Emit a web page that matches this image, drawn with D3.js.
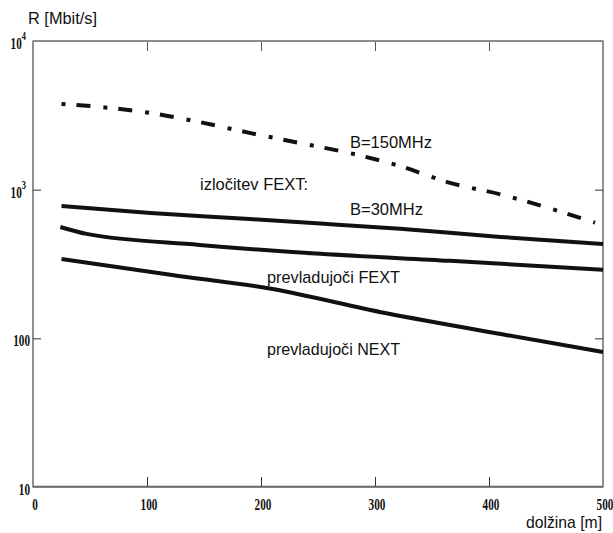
<!DOCTYPE html>
<html>
<head>
<meta charset="utf-8">
<script src="https://cdn.jsdelivr.net/npm/d3@7/dist/d3.min.js"></script>
<style>
  body { margin: 0; background: #fff; }
  .lab { font-family: "Liberation Sans", Arial, sans-serif; font-size: 17px; fill: #111; }
  .tk { font-family: "Liberation Serif", "Times New Roman", serif; font-weight: bold; font-size: 16px; fill: #111; }
</style>
</head>
<body>
<script>
// B=150MHz (dash-dot)
var dist150 = [25, 59, 103, 146, 191, 234, 278, 322, 366, 410, 453, 493],
    rate150 = [3770, 3600, 3280, 2850, 2400, 2060, 1760, 1440, 1110, 930, 750, 600];
// B=30MHz
var dist30 = [25, 103, 190, 252, 322, 410, 500],
    rate30 = [776, 697, 635, 592, 545, 481, 431];
// prevladujoci FEXT
var distFext = [24, 47, 146, 252, 366, 500],
    rateFext = [561, 504, 425, 370, 332, 289];
// prevladujoci NEXT
var distNext = [25, 122, 205, 309, 416, 500],
    rateNext = [342, 267, 218, 148, 105, 81];

var xTicks = [0, 100, 200, 300, 400, 500],
    yTicks = [10, 100, 1000, 10000];

var width = 613, height = 533;

var svg = d3.select("body").append("svg")
    .attr("width", width)
    .attr("height", height);

var x = d3.scaleLinear().domain([0, 500]).range([33, 603]),
    y = d3.scaleLog().domain([10, 10000]).range([487, 41]);

// inner ticks
svg.append("g").attr("transform", "translate(0," + y(10) + ")")
  .call(d3.axisBottom(x).tickValues([100, 200, 300, 400]).tickSize(-10).tickFormat(""))
  .call(function(g){ g.select(".domain").remove(); g.selectAll("line").attr("stroke", "#333"); });
svg.append("g").attr("transform", "translate(0," + y(10000) + ")")
  .call(d3.axisTop(x).tickValues([100, 200, 300, 400]).tickSize(-10).tickFormat(""))
  .call(function(g){ g.select(".domain").remove(); g.selectAll("line").attr("stroke", "#555"); });
svg.append("g").attr("transform", "translate(" + x(0) + ",0)")
  .call(d3.axisLeft(y).tickValues([100, 1000, 10000]).tickSize(-8).tickFormat(""))
  .call(function(g){ g.select(".domain").remove(); g.selectAll("line").attr("stroke", "#333"); });
svg.append("g").attr("transform", "translate(" + x(500) + ",0)")
  .call(d3.axisRight(y).tickValues([100, 1000, 10000]).tickSize(-8).tickFormat(""))
  .call(function(g){ g.select(".domain").remove(); g.selectAll("line").attr("stroke", "#333"); });

// frame
svg.append("rect")
  .attr("x", x(0)).attr("y", y(10000))
  .attr("width", x(500) - x(0)).attr("height", y(10) - y(10000))
  .attr("fill", "none").attr("stroke", "#222").attr("stroke-width", 1);
svg.append("line")
  .attr("x1", x(0)).attr("x2", x(500)).attr("y1", y(10) - 0.5).attr("y2", y(10) - 0.5)
  .attr("stroke", "#666").attr("stroke-width", 1.5);
svg.append("line")
  .attr("x1", x(0)).attr("x2", x(500)).attr("y1", y(10000) + 0.5).attr("y2", y(10000) + 0.5)
  .attr("stroke", "#888").attr("stroke-width", 1);

// tick labels
svg.selectAll(".xt").data(xTicks).enter().append("text")
  .attr("class", "tk")
  .attr("text-anchor", "middle")
  .attr("transform", function(d){ return "translate(" + (x(d) + 2) + ",510) scale(0.7,1)"; })
  .text(function(d){ return d; });

var yl = svg.selectAll(".yt").data(yTicks).enter().append("text")
  .attr("class", "tk")
  .attr("text-anchor", "end")
  .attr("transform", function(d){ return "translate(30," + (y(d) + 8) + ") scale(0.7,1)"; });
yl.filter(function(d){ return d <= 100; }).text(function(d){ return d; });
yl.filter(function(d){ return d > 100; })
  .attr("transform", function(d){ return "translate(26," + (y(d) + 8) + ") scale(0.7,1)"; })
  .each(function(d){
    var t = d3.select(this);
    t.append("tspan").text("10");
    t.append("tspan").attr("dy", -9).style("font-size", "12px").text(Math.round(Math.log10(d)));
  });

// curves
var line = d3.line()
  .x(function(d){ return x(d[0]); })
  .y(function(d){ return y(d[1]); })
  .curve(d3.curveMonotoneX);

function pairs(a, b){ return a.map(function(v, i){ return [v, b[i]]; }); }

svg.append("path")
  .attr("d", line(pairs(dist150, rate150)))
  .attr("fill", "none").attr("stroke", "#111").attr("stroke-width", 4)
  .attr("stroke-dasharray", "4,11,14,13");

[[dist30, rate30], [distFext, rateFext], [distNext, rateNext]].forEach(function(s){
  svg.append("path")
    .attr("d", line(pairs(s[0], s[1])))
    .attr("fill", "none").attr("stroke", "#111").attr("stroke-width", 4)
    .attr("stroke-linejoin", "round");
});

// labels
var labels = [
  {t: "B=150MHz", x: 350, y: 148, w: 82},
  {t: "izločitev FEXT:", x: 200, y: 190, w: 108},
  {t: "B=30MHz", x: 350, y: 215, w: 73},
  {t: "prevladujoči FEXT", x: 267, y: 283, w: 133},
  {t: "prevladujoči NEXT", x: 267, y: 355, w: 133},
  {t: "R [Mbit/s]", x: 28, y: 24, w: 69},
  {t: "dolžina [m]", x: 526, y: 528, w: 76}
];
svg.selectAll(".lab").data(labels).enter().append("text")
  .attr("class", "lab")
  .attr("x", function(d){ return d.x; })
  .attr("y", function(d){ return d.y; })
  .attr("textLength", function(d){ return d.w; })
  .attr("lengthAdjust", "spacingAndGlyphs")
  .text(function(d){ return d.t; });
</script>
</body>
</html>
